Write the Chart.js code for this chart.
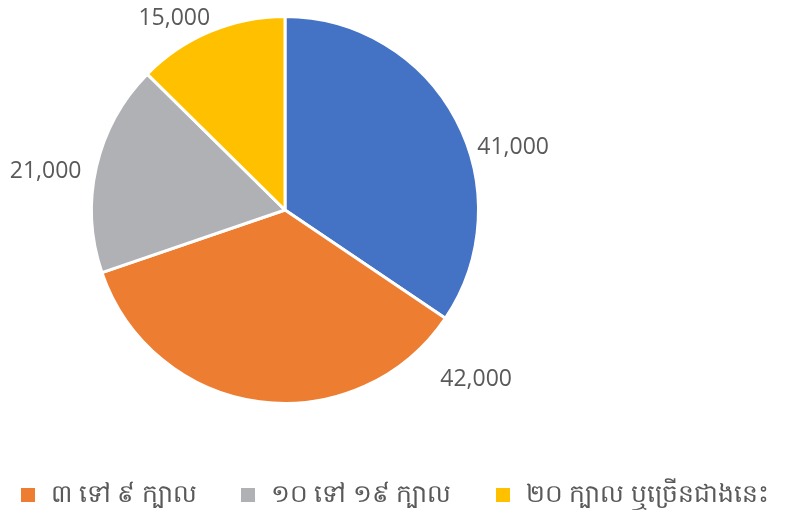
<!DOCTYPE html>
<html>
<head>
<meta charset="utf-8">
<script src="https://cdn.jsdelivr.net/npm/chart.js@4.4.1/dist/chart.umd.min.js"></script>
<style>
    html, body { margin: 0; padding: 0; background: #fff; }
    #wrap { position: relative; width: 790px; height: 514px; }
    #legend {
        position: absolute; left: 0; right: 0; top: 475px;
        display: flex; justify-content: center; gap: 44px;
        font-family: 'Noto Sans', 'DejaVu Sans', sans-serif; font-size: 25px; color: #595959;
    }
    .item { display: flex; align-items: center; }
    .box { width: 14px; height: 14px; margin-right: 16px; }
</style>
</head>
<body>
<div id="wrap">
    <canvas id="chart" width="790" height="514"></canvas>
    <div id="legend"></div>
</div>
<script>
const labels = ['១ ទៅ ២ ក្បាល', '៣ ទៅ ៩ ក្បាល', '១០ ទៅ ១៩ ក្បាល', '២០ ក្បាល ឬច្រើនជាងនេះ'];
const values = [41000, 42000, 21000, 15000];
const colors = ['#4472C4', '#ED7D31', '#B0B1B4', '#FFC000'];
// the blue slice has no entry in the reference legend
const legendShown = [false, true, true, true];

// value labels placed outside each slice (angle shift in degrees, extra distance in px)
const labelShift = [12.7, -56, -3.7, -7.3];
const labelGap = [43, 62, 49, 28];

const outsideLabels = {
    id: 'outsideLabels',
    afterDatasetsDraw(chart) {
        const ctx = chart.ctx;
        const meta = chart.getDatasetMeta(0);
        const nf = new Intl.NumberFormat('en-US');
        ctx.save();
        ctx.font = "23px 'Open Sans', sans-serif";
        ctx.fillStyle = '#595959';
        ctx.textAlign = 'center';
        ctx.textBaseline = 'middle';
        meta.data.forEach((arc, i) => {
            const p = arc.getProps(['x', 'y', 'startAngle', 'endAngle', 'outerRadius'], true);
            const a = (p.startAngle + p.endAngle) / 2 + labelShift[i] * Math.PI / 180;
            const d = p.outerRadius + labelGap[i];
            ctx.fillText(nf.format(values[i]), p.x + Math.cos(a) * d, p.y + Math.sin(a) * d);
        });
        ctx.restore();
    }
};

new Chart(document.getElementById('chart'), {
    type: 'pie',
    data: {
        labels: labels,
        datasets: [{
            data: values,
            backgroundColor: colors,
            borderColor: '#ffffff',
            borderWidth: 3
        }]
    },
    options: {
        responsive: false,
        animation: false,
        layout: { padding: { left: 0, right: 220, top: 15, bottom: 109 } },
        plugins: {
            legend: { display: false },
            tooltip: { enabled: false }
        }
    },
    plugins: [outsideLabels]
});

const legendEl = document.getElementById('legend');
labels.forEach((lab, i) => {
    if (!legendShown[i]) return;
    const item = document.createElement('div');
    item.className = 'item';
    item.innerHTML = `<span class="box" style="background:${colors[i]}"></span><span>${lab}</span>`;
    legendEl.appendChild(item);
});
</script>
</body>
</html>
